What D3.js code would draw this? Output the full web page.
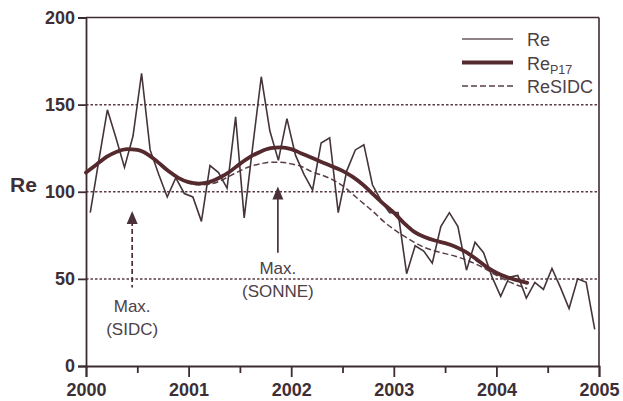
<!DOCTYPE html>
<html>
<head>
<meta charset="utf-8">
<script src="https://cdn.jsdelivr.net/npm/d3@7"></script>
<style>
  html, body { margin: 0; padding: 0; background: #ffffff; }
  svg { display: block; font-family: "Liberation Sans", Arial, sans-serif; }
</style>
</head>
<body>
<svg id="chart" width="623" height="401"></svg>
<script>
// ---- Data ----
// Monthly Re values, Jan 2000 .. Dec 2004 (plotted at mid-month)
const reValues = [
  88, 118, 147, 131, 114, 132, 168, 124, 110, 97, 108, 99,
  97, 83, 115, 111, 102, 143, 85, 126, 166, 135, 118, 142,
  121, 110, 101, 128, 131, 88, 112, 124, 127, 104, 95, 88,
  88, 53, 69, 66, 59, 80, 88, 80, 55, 71, 65, 51,
  40, 51, 52, 39, 48, 44, 56, 45, 33, 50, 48, 21
];
// Smoothed series, sampled every 0.1 year
const smoothYears = [
  2000.0, 2000.1, 2000.2, 2000.3, 2000.4, 2000.5, 2000.6, 2000.7, 2000.8, 2000.9,
  2001.0, 2001.1, 2001.2, 2001.3, 2001.4, 2001.5, 2001.6, 2001.7, 2001.8, 2001.9,
  2002.0, 2002.1, 2002.2, 2002.3, 2002.4, 2002.5, 2002.6, 2002.7, 2002.8, 2002.9,
  2003.0, 2003.1, 2003.2, 2003.3, 2003.4, 2003.5, 2003.6, 2003.7, 2003.8, 2003.9,
  2004.0, 2004.1, 2004.2, 2004.3
];
const reP17 = [
  111, 115.5, 120, 123, 124.5, 124, 121.5, 117, 112, 108,
  105.5, 104.7, 105.5, 108, 111.5, 116, 120, 123, 125, 125.5,
  124.5, 122, 119.5, 117, 114.5, 112, 108.5, 104, 98.5, 93,
  88, 82, 77, 74, 72, 70.5, 68.5, 65.5, 61.5, 57,
  53.5, 51, 49.3, 47.7
];
const reSIDC = [
  111, 115.5, 120, 123, 124.5, 124, 121.5, 117, 112, 108,
  105, 104, 104.3, 106, 109, 112, 114.5, 116, 117, 117,
  116, 114.5, 111.5, 109.5, 107, 103.5, 98.5, 93.5, 88.5, 83,
  78.5, 74.5, 71, 68, 66, 64.5, 63, 61, 58.5, 55.5,
  52, 49, 46.5, 44.5
];
const xTicks = [2000, 2001, 2002, 2003, 2004, 2005];
const xMinorTicks = [2000.5, 2001.5, 2002.5, 2003.5, 2004.5];
const yTicks = [0, 50, 100, 150, 200];
const gridValues = [50, 100, 150];
const legendItems = [
  { key: "re", label: "Re", sub: "" },
  { key: "p17", label: "Re", sub: "P17" },
  { key: "sidc", label: "ReSIDC", sub: "" }
];
const annotations = [
  { year: 2000.45, tipValue: 89, baseValue: 45, dashed: true, lines: ["Max.", "(SIDC)"] },
  { year: 2001.87, tipValue: 103, baseValue: 65, dashed: false, lines: ["Max.", "(SONNE)"] }
];

// ---- Layout ----
const ink = "#45343b";
const axisInk = "#3e2c33";
const pLeft = 86, pRight = 599, pTop = 17.5, pBottom = 366;
const svg = d3.select("#chart");

const x = d3.scaleLinear().domain([2000, 2005]).range([pLeft, pRight]);
const y = d3.scaleLinear().domain([0, 200]).range([pBottom, pTop]);

// grid lines
svg.append("g").selectAll("line").data(gridValues).join("line")
  .attr("x1", pLeft).attr("x2", pRight)
  .attr("y1", d => y(d)).attr("y2", d => y(d))
  .attr("stroke", "#5a3a45").attr("stroke-width", 1.5)
  .attr("stroke-dasharray", "2.5,2");

// box top & right
svg.append("line").attr("x1", pLeft).attr("x2", pRight).attr("y1", pTop).attr("y2", pTop)
  .attr("stroke", axisInk).attr("stroke-width", 1.6);
svg.append("line").attr("x1", pRight).attr("x2", pRight).attr("y1", pTop).attr("y2", pBottom)
  .attr("stroke", axisInk).attr("stroke-width", 1.6);

// x axis
const xAxis = d3.axisBottom(x).tickValues(xTicks).tickFormat(d3.format("d")).tickSize(11).tickPadding(6);
const gx = svg.append("g").attr("transform", `translate(0,${pBottom})`).call(xAxis);
gx.select(".domain").attr("stroke", axisInk).attr("stroke-width", 1.8);
gx.selectAll(".tick line").attr("stroke", axisInk).attr("stroke-width", 1.8);
gx.selectAll("text").attr("fill", "#3d2f35").attr("font-size", 18).attr("font-weight", "bold")
  .attr("font-family", "'Liberation Sans', Arial, sans-serif");
const xAxisMinor = d3.axisBottom(x).tickValues(xMinorTicks).tickFormat("").tickSize(7);
const gxm = svg.append("g").attr("transform", `translate(0,${pBottom})`).call(xAxisMinor);
gxm.select(".domain").remove();
gxm.selectAll(".tick line").attr("stroke", axisInk).attr("stroke-width", 1.8);

// y axis
const yAxis = d3.axisLeft(y).tickValues(yTicks).tickSize(8).tickPadding(3);
const gy = svg.append("g").attr("transform", `translate(${pLeft},0)`).call(yAxis);
gy.select(".domain").attr("stroke", axisInk).attr("stroke-width", 1.8);
gy.selectAll(".tick line").attr("stroke", axisInk).attr("stroke-width", 1.8);
gy.selectAll("text").attr("fill", "#3d2f35").attr("font-size", 18).attr("font-weight", "bold")
  .attr("font-family", "'Liberation Sans', Arial, sans-serif");

// y label
svg.append("text").attr("x", 10).attr("y", 192).text("Re")
  .attr("fill", "#3d2f35").attr("font-size", 21).attr("font-weight", "bold");

// ---- Series ----
const reData = reValues.map((v, i) => ({ t: 2000 + (i + 0.5) / 12, v }));
const p17Data = smoothYears.map((t, i) => ({ t, v: reP17[i] }));
const sidcData = smoothYears.map((t, i) => ({ t, v: reSIDC[i] }));

const lineLin = d3.line().x(d => x(d.t)).y(d => y(d.v));
const lineSmooth = d3.line().x(d => x(d.t)).y(d => y(d.v)).curve(d3.curveMonotoneX);

svg.append("path").datum(sidcData).attr("d", lineSmooth)
  .attr("fill", "none").attr("stroke", "#5a3f48").attr("stroke-width", 1.5)
  .attr("stroke-dasharray", "6,3");
svg.append("path").datum(reData).attr("d", lineLin)
  .attr("fill", "none").attr("stroke", ink).attr("stroke-width", 1.6)
  .attr("stroke-linejoin", "miter");
svg.append("path").datum(p17Data).attr("d", lineSmooth)
  .attr("fill", "none").attr("stroke", "#552a2e").attr("stroke-width", 3.8)
  .attr("stroke-linecap", "round");

// ---- Annotations ----
annotations.forEach(a => {
  const ax = x(a.year);
  const tip = y(a.tipValue), base = y(a.baseValue);
  svg.append("line").attr("x1", ax).attr("x2", ax).attr("y1", tip + 10).attr("y2", base)
    .attr("stroke", "#4a3038").attr("stroke-width", 1.7)
    .attr("stroke-dasharray", a.dashed ? "5,3" : null);
  svg.append("path")
    .attr("d", `M${ax},${tip} L${ax - 5.5},${tip + 13} L${ax + 5.5},${tip + 13} Z`)
    .attr("fill", "#4a3038");
  const t0 = base + (a.dashed ? 24 : 21);
  a.lines.forEach((s, k) => {
    svg.append("text").attr("x", ax).attr("y", t0 + k * 23).text(s)
      .attr("text-anchor", "middle").attr("fill", "#4d4146").attr("font-size", 17);
  });
});

// ---- Legend ----
const legX1 = 462, legX2 = 513, legY0 = 39, legDy = 23.5;
legendItems.forEach((it, k) => {
  const ly = legY0 + k * legDy;
  const ln = svg.append("line").attr("x1", legX1).attr("x2", legX2).attr("y1", ly).attr("y2", ly);
  if (it.key === "re") ln.attr("stroke", "#6a5a60").attr("stroke-width", 1.7);
  else if (it.key === "p17") ln.attr("stroke", "#552a2e").attr("stroke-width", 3.8);
  else ln.attr("stroke", "#5a3f48").attr("stroke-width", 1.5).attr("stroke-dasharray", "6,3");
  const tx = svg.append("text").attr("x", 527).attr("y", ly + 7)
    .attr("fill", "#4d4146").attr("font-size", 18);
  tx.append("tspan").text(it.label);
  if (it.sub) tx.append("tspan").attr("dy", 4).attr("font-size", 12.5).text(it.sub);
});
</script>
</body>
</html>
